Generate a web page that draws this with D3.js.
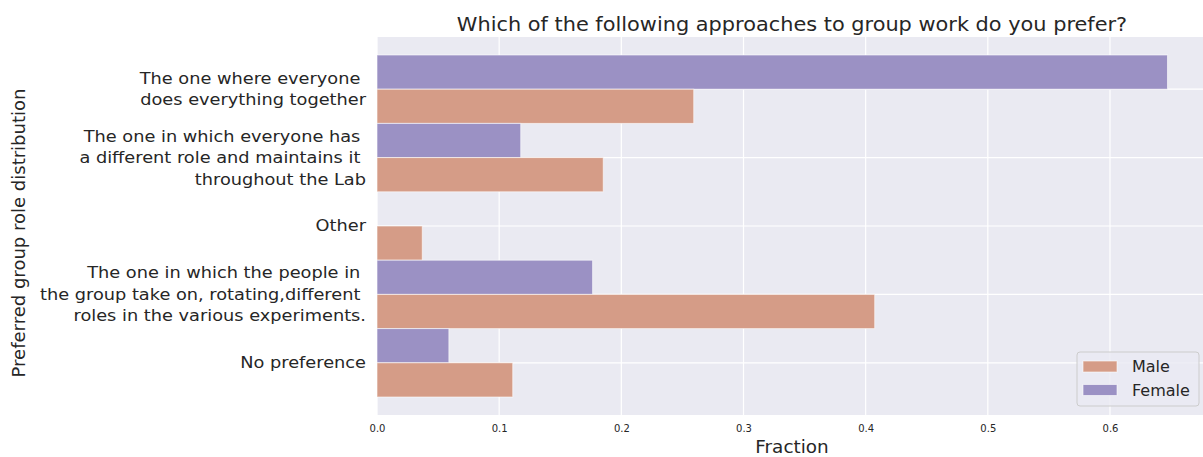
<!DOCTYPE html>
<html><head><meta charset="utf-8">
<script src="https://cdn.jsdelivr.net/npm/d3@7"></script>
<style>
html,body{margin:0;padding:0;background:#fff;}
svg{display:block;font-family:"DejaVu Sans",sans-serif;}
</style></head><body>
<svg id="chart" width="1203" height="457"></svg>
<script>
const categories = [
  ["The one where everyone ", "does everything together"],
  ["The one in which everyone has ", "a different role and maintains it ", "throughout the Lab"],
  ["Other"],
  ["The one in which the people in ", "the group take on, rotating,different ", "roles in the various experiments."],
  ["No preference"]
];
const series = ["Female", "Male"];
const femaleValues = [11/17, 2/17, 0, 3/17, 1/17];
const maleValues = [7/27, 5/27, 1/27, 11/27, 3/27];
const xTicks = [0, 0.1, 0.2, 0.3, 0.4, 0.5, 0.6];
const legendOrder = ["Male", "Female"];

const colors = {Female: "rgb(155,145,196)", Male: "rgb(213,156,135)"};
const svg = d3.select("#chart");
const L = 377, R = 1206.5, T = 37, B = 415;

const x = d3.scaleLinear().domain([0, 0.679]).range([L, R]);
const yBand = d3.scaleBand().domain(d3.range(categories.length)).range([T + 18, B - 18]).padding(0);
const ySub = d3.scaleBand().domain(series).range([0, yBand.bandwidth()]).padding(0);

svg.append("rect").attr("x", L).attr("y", T).attr("width", R - L).attr("height", B - T).attr("fill", "#eaeaf2");

// grid
const g = svg.append("g");
g.selectAll("line.vx").data(xTicks).join("line")
  .attr("x1", d => x(d)).attr("x2", d => x(d)).attr("y1", T).attr("y2", B)
  .attr("stroke", "#fff").attr("stroke-width", 1.2);
g.selectAll("line.hy").data(d3.range(categories.length)).join("line")
  .attr("x1", L).attr("x2", R)
  .attr("y1", d => yBand(d) + yBand.bandwidth() / 2).attr("y2", d => yBand(d) + yBand.bandwidth() / 2)
  .attr("stroke", "#fff").attr("stroke-width", 1.2);

// bars
const data = [];
categories.forEach((c, i) => {
  data.push({i, s: "Female", v: femaleValues[i]});
  data.push({i, s: "Male", v: maleValues[i]});
});
svg.append("g").selectAll("rect").data(data.filter(d => d.v > 0)).join("rect")
  .attr("x", x(0))
  .attr("y", d => yBand(d.i) + ySub(d.s))
  .attr("width", d => x(d.v) - x(0))
  .attr("height", ySub.bandwidth())
  .attr("fill", d => colors[d.s])
  .attr("stroke", "rgba(255,255,255,0.6)").attr("stroke-width", 1);

// x axis
const xAxis = d3.axisBottom(x).tickValues(xTicks).tickFormat(d3.format(".1f")).tickSize(0).tickPadding(10);
const xg = svg.append("g").attr("transform", `translate(0,${B})`).call(xAxis);
xg.select(".domain").remove();
xg.selectAll("text").attr("font-size", 10).attr("fill", "#262626").attr("font-family", "DejaVu Sans");

// y axis labels
const yg = svg.append("g").attr("transform", "translate(366,0) scale(1.11,1)");
categories.forEach((lines, i) => {
  const cy = yBand(i) + yBand.bandwidth() / 2;
  const lh = 21.5;
  const t = yg.append("text").attr("text-anchor", "end").attr("font-size", 16).attr("fill", "#262626")
    .attr("style", "white-space:pre");
  lines.forEach((ln, k) => {
    t.append("tspan").attr("x", 0)
      .attr("y", cy + (k - (lines.length - 1) / 2) * lh + 5.5).text(ln);
  });
});

// axis titles
svg.append("text").attr("transform", "translate(792,453) scale(1.05,1)").attr("text-anchor", "middle")
  .attr("font-size", 17.5).attr("fill", "#262626").text("Fraction");
svg.append("text").attr("transform", `translate(25,233) rotate(-90) scale(1.03,1)`)
  .attr("text-anchor", "middle").attr("font-size", 17.5).attr("fill", "#262626")
  .text("Preferred group role distribution");
svg.append("text").attr("transform", "translate(792,31) scale(1.07,1)").attr("text-anchor", "middle")
  .attr("font-size", 19.5).attr("fill", "#262626")
  .text("Which of the following approaches to group work do you prefer?");

// legend
const lg = svg.append("g");
lg.append("rect").attr("x", 1077).attr("y", 352).attr("width", 122).attr("height", 54).attr("rx", 3)
  .attr("fill", "rgba(234,234,242,0.8)").attr("stroke", "#cccccc").attr("stroke-width", 1);
legendOrder.forEach((s, k) => {
  lg.append("rect").attr("x", 1083).attr("y", 361 + k * 23.5).attr("width", 34).attr("height", 11)
    .attr("fill", colors[s]).attr("stroke", "rgba(255,255,255,0.6)");
  lg.append("text").attr("x", 1132).attr("y", 372 + k * 23.5).attr("font-size", 16).attr("fill", "#262626").text(s);
});
</script>
</body></html>
